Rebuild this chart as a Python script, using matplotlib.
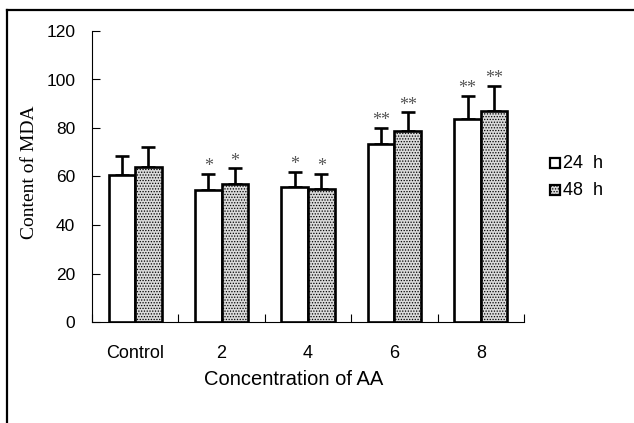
import matplotlib
matplotlib.use("Agg")
import matplotlib.pyplot as plt
from matplotlib.lines import Line2D
from matplotlib.patches import Rectangle
import numpy as np

categories = ["Control", "2", "4", "6", "8"]
series_names = ["24  h", "48  h"]
mean_24h = [60.5, 54.4, 55.5, 73.5, 83.6]
err_24h = [8.0, 6.6, 6.5, 6.6, 9.6]
mean_48h = [64.0, 56.9, 55.0, 78.9, 87.0]
err_48h = [8.3, 6.5, 6.0, 7.6, 10.3]
sig_24h = ["", "*", "*", "**", "**"]
sig_48h = ["", "*", "*", "**", "**"]
yticks = [0, 20, 40, 60, 80, 100, 120]

plt.rcParams['font.family'] = ['Liberation Sans', 'DejaVu Sans']
plt.rcParams['hatch.color'] = '#9a9a9a'
plt.rcParams['hatch.linewidth'] = 0.6

fig = plt.figure(figsize=(6.34, 4.23), dpi=100)
ax = fig.add_axes([92/634, 1-322/423, (524-92)/634, (322-31)/423])

x = np.arange(len(categories))
w = 0.307
lw = 1.9
ax.bar(x - w/2, mean_24h, w, color='white', edgecolor='black', linewidth=lw, zorder=3)
ax.bar(x + w/2, mean_48h, w, color='#dadada', edgecolor='black', linewidth=lw,
       hatch='......', zorder=3)

for xs, m, e in [(x - w/2, mean_24h, err_24h), (x + w/2, mean_48h, err_48h)]:
    ax.errorbar(xs, m, yerr=[np.zeros(len(e)), e], fmt='none', ecolor='black',
                elinewidth=1.9, capsize=4.8, capthick=1.9, zorder=2)

for xs, m, e, s in [(x - w/2, mean_24h, err_24h, sig_24h), (x + w/2, mean_48h, err_48h, sig_48h)]:
    for xi, mi, ei, si in zip(xs, m, e, s):
        if si:
            ax.annotate(si, (xi, mi + ei), xytext=(0, -1), textcoords='offset points',
                        ha='center', va='bottom', fontsize=13, color='#555555',
                        family=['Liberation Serif', 'DejaVu Serif'])

ax.set_xlim(-0.5, len(categories) - 0.5)
ax.set_ylim(0, 120)
ax.set_yticks(yticks)
ax.set_yticklabels([str(t) for t in yticks], fontsize=12.5)
ax.tick_params(axis='y', direction='in', length=6, width=0.8, pad=12)
ax.set_xticks(x)
ax.set_xticklabels(categories, fontsize=13)
ax.tick_params(axis='x', which='major', length=0, pad=16.5)
ax.set_xticks(np.arange(len(categories) + 1) - 0.5, minor=True)
ax.tick_params(axis='x', which='minor', direction='in', length=6, width=0.8)
for s in ['top', 'right']:
    ax.spines[s].set_visible(False)
for s in ['left', 'bottom']:
    ax.spines[s].set_linewidth(0.8)

ax.set_xlabel("Concentration of AA", fontsize=14.5, labelpad=6)
ax.xaxis.label.set_x((293.5 - 92) / 432)
fig.text(29/634, 1-172/423, "Content of MDA", rotation=90, ha='center', va='center',
         fontsize=14, family=['Liberation Serif', 'DejaVu Serif'])

# legend
fig.patches.append(Rectangle((550/634, 1-168/423), 10/634, 10/423, transform=fig.transFigure,
                             facecolor='white', edgecolor='black', linewidth=1.6))
fig.patches.append(Rectangle((550/634, 1-195/423), 10/634, 10/423, transform=fig.transFigure,
                             facecolor='#dadada', edgecolor='black', linewidth=1.6, hatch='......'))
fig.text(563/634, 1-163/423, series_names[0], ha='left', va='center', fontsize=13)
fig.text(563/634, 1-190/423, series_names[1], ha='left', va='center', fontsize=13)

# outer frame
fig.add_artist(Line2D([7/634, 7/634], [0, 1-10/423], transform=fig.transFigure, color='black', lw=1.6))
fig.add_artist(Line2D([7/634, 633/634], [1-10/423, 1-10/423], transform=fig.transFigure, color='black', lw=1.6))

fig.savefig("out.png", dpi=100)
